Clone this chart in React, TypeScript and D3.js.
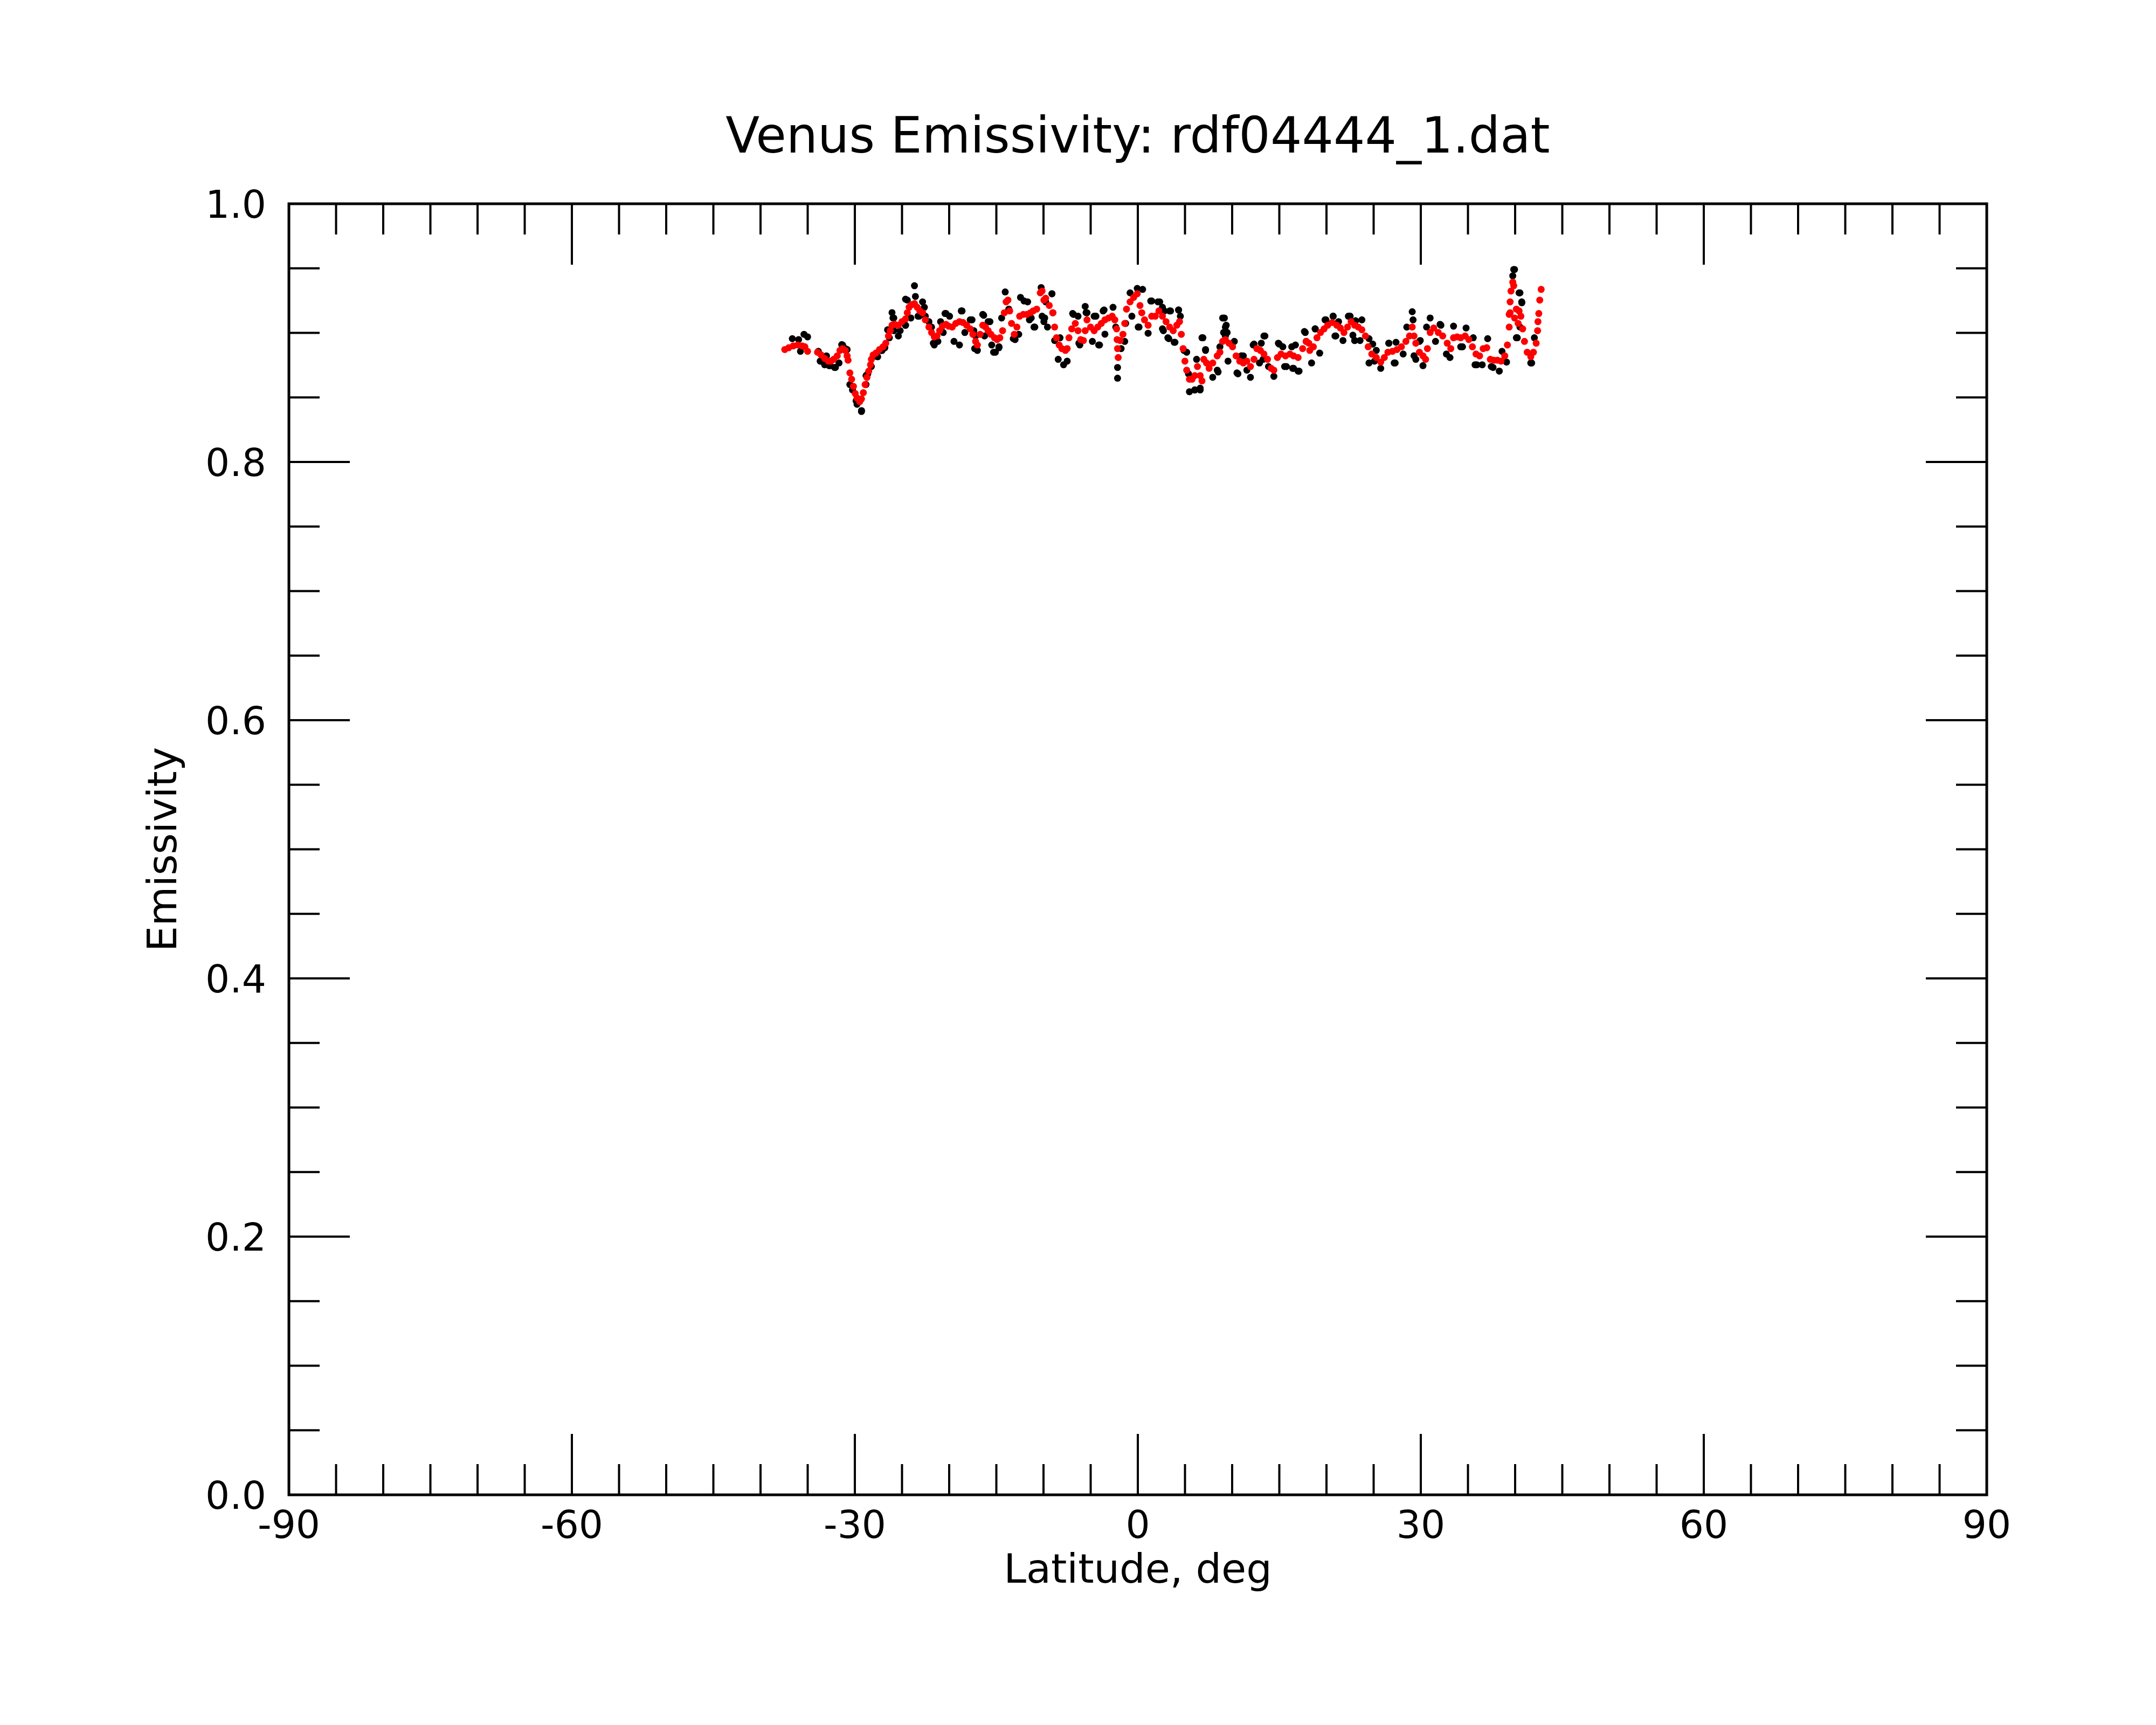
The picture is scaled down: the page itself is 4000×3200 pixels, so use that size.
import * as d3 from 'd3';

// smoothed emissivity (red)
const redLat = [
  -37.43, -37.01, -36.53, -36.06, -35.58, -35.30, -35.01,
  -33.96, -33.58, -33.20, -32.82, -32.53, -32.25, -31.87, -31.58, -31.30, -31.01, -30.82, -30.72,
  -30.53, -30.34, -30.15, -29.96, -29.77, -29.49, -29.30, -29.10, -28.91, -28.72, -28.53, -28.34, -28.25, -28.06,
  -27.77, -27.39, -27.01, -26.72, -26.44, -26.25, -26.06, -25.77, -25.39, -25.01, -24.63, -24.44, -24.25, -23.96,
  -23.68, -23.39, -23.11, -22.82, -22.53, -22.15, -21.87, -21.58, -21.30, -21.01, -20.72, -20.34, -20.06, -19.68,
  -19.30, -18.91, -18.53, -18.15, -17.77, -17.49, -17.20, -17.01, -16.72, -16.44, -16.15, -15.87, -15.58, -15.20,
  -14.92, -14.63, -14.34, -14.15, -13.96, -13.77, -13.58, -13.39, -13.10, -12.82, -12.53, -12.15, -11.77, -11.39,
  -11.10, -10.72, -10.34, -9.96,
  -10.15, -9.77, -9.39, -9.01, -8.82, -8.63, -8.34, -8.06, -7.68, -7.49, -7.30, -7.01, -6.63, -6.34, -6.06, -5.77,
  -5.58, -5.39, -5.01, -4.63, -4.25, -3.87, -3.49, -3.10, -2.72, -2.44, -2.25, -2.20, -2.15, -2.08, -1.87, -1.58,
  -1.39, -1.20, -0.82, -0.44, -0.06, 0.23, 0.42, 0.71, 1.09, 1.47, 1.85, 2.23, 2.61, 2.99, 3.37, 3.75, 4.13, 4.42,
  4.61, 4.80, 4.99, 5.18, 5.47, 5.75, 6.04, 6.32, 6.61, 6.80, 6.99, 7.28, 7.56, 7.94, 8.42, 8.70, 8.99, 9.28, 9.66,
  10.04, 10.42, 10.80, 11.18, 11.56, 11.94, 12.32, 12.61, 12.99, 13.37, 13.75, 14.13, 14.42, 14.80, 15.18, 15.66,
  16.13, 16.51, 16.99, 17.47, 17.85, 18.13,
  18.23, 18.61, 18.99, 19.37, 19.75, 20.13, 20.61, 21.09, 21.47, 21.85, 22.23, 22.61, 22.99, 23.37, 23.75, 24.13,
  24.42, 24.80, 25.28, 25.75, 26.13, 26.51, 26.99, 27.47, 27.94, 28.42, 28.80, 29.09, 29.28, 29.47, 29.85, 30.23,
  30.51, 30.70, 30.99, 31.37, 31.85, 32.32, 32.80, 33.18, 33.47, 33.85, 34.23, 34.70, 35.09, 35.47, 35.85, 36.23,
  36.61, 36.99, 37.37, 37.75, 38.13, 38.51, 38.90, 39.18, 39.37, 39.47, 39.56, 39.75, 39.85, 39.47, 39.37, 39.94,
  40.13, 40.42, 40.32, 40.61, 40.80, 40.99, 41.28, 41.66, 41.94, 42.23, 42.38, 42.42, 42.51, 42.61, 42.76,
];
const redEm = [
  0.8871, 0.8885, 0.8899, 0.8906, 0.8899, 0.8892, 0.8857,
  0.8850, 0.8829, 0.8802, 0.8781, 0.8781, 0.8795, 0.8822, 0.8864, 0.8878, 0.8864, 0.8822, 0.8788,
  0.8690, 0.8641, 0.8586, 0.8530, 0.8495, 0.8467, 0.8488, 0.8537, 0.8600, 0.8655, 0.8704, 0.8753, 0.8795, 0.8829,
  0.8843, 0.8871, 0.8892, 0.8920, 0.8976, 0.9017, 0.9059, 0.9066, 0.9059, 0.9087, 0.9108, 0.9156, 0.9198, 0.9219,
  0.9226, 0.9198, 0.9170, 0.9156, 0.9101, 0.9045, 0.9003, 0.8969, 0.8976, 0.9017, 0.9052, 0.9066, 0.9052, 0.9045,
  0.9073, 0.9087, 0.9080, 0.9059, 0.9031, 0.8989, 0.8934, 0.8906, 0.8989, 0.9059, 0.9045, 0.9017, 0.8989, 0.8962,
  0.8948, 0.8962, 0.9017, 0.9156, 0.9240, 0.9254, 0.9170, 0.9073, 0.8989, 0.9045, 0.9129, 0.9143, 0.9143, 0.9156,
  0.9170, 0.9184, 0.9310, 0.9254,
  0.9324, 0.9268, 0.9212, 0.9156, 0.9045, 0.8962, 0.8906, 0.8878, 0.8864, 0.8878, 0.8962, 0.9031, 0.9073, 0.9017, 0.8948, 0.8941,
  0.9017, 0.9101, 0.9045, 0.9017, 0.9045, 0.9073, 0.9101, 0.9115, 0.9129, 0.9101, 0.9031, 0.8948, 0.8878, 0.8809, 0.8941, 0.8989,
  0.9073, 0.9184, 0.9240, 0.9275, 0.9303, 0.9212, 0.9156, 0.9101, 0.9059, 0.9129, 0.9129, 0.9170, 0.9129, 0.9087, 0.9045, 0.9017, 0.9059, 0.9087,
  0.8989, 0.8878, 0.8781, 0.8711, 0.8641, 0.8641, 0.8669, 0.8739, 0.8669, 0.8628, 0.8795, 0.8767, 0.8725, 0.8767, 0.8822, 0.8850, 0.8934, 0.8948, 0.8920,
  0.8892, 0.8822, 0.8781, 0.8767, 0.8781, 0.8739, 0.8795, 0.8878, 0.8864, 0.8836, 0.8795, 0.8725, 0.8711, 0.8809, 0.8836, 0.8822,
  0.8836, 0.8822, 0.8809, 0.8878, 0.8934, 0.8920,
  0.8864, 0.8892, 0.8962, 0.9003, 0.9031, 0.9059, 0.9080, 0.9059, 0.9038, 0.9003, 0.9045, 0.9087, 0.9059, 0.9045, 0.9024, 0.8976,
  0.8892, 0.8836, 0.8809, 0.8774, 0.8809, 0.8850, 0.8857, 0.8871, 0.8892, 0.8934, 0.8976, 0.9045, 0.8976, 0.8920, 0.8850, 0.8822,
  0.8795, 0.8878, 0.9003, 0.9038, 0.9003, 0.8976, 0.8920, 0.8878, 0.8962, 0.8969, 0.8962, 0.8976, 0.8948, 0.8892, 0.8836, 0.8822,
  0.8878, 0.8885, 0.8795, 0.8788, 0.8788, 0.8781, 0.8822, 0.8906, 0.9045, 0.9156, 0.9324, 0.9393, 0.9365, 0.9240, 0.9143, 0.9115,
  0.9184, 0.9170, 0.9073, 0.9129, 0.9031, 0.8934, 0.8850, 0.8815, 0.8850, 0.8920, 0.9017, 0.9087, 0.9150, 0.9254, 0.9337,
];

// raw emissivity samples (black)
const blackLat = [
  -36.63, -35.96, -35.39, -35.01, -35.77, -33.58, -32.63, -32.06, -31.30, -30.82, -30.53, -29.87, -29.30, -28.82,
  -28.63, -27.58, -27.11, -26.82, -26.06, -25.96, -25.39, -25.20, -24.63, -24.44, -23.68, -23.58, -23.30, -22.82,
  -22.15, -21.58, -21.20, -20.34, -19.49, -18.91, -18.63, -17.77, -17.20, -17.01, -16.34, -15.68, -15.49, -15.10,
  -14.72, -14.06, -13.01, -12.44, -11.68, -11.30, -10.92, -10.25, -10.15,
  -9.77, -9.11, -9.96, -9.58, -8.44, -7.87, -7.49, -8.25, -6.82, -6.25, -5.58, -5.49, -4.82, -4.44, -4.06, -3.58,
  -3.49, -2.63, -2.34, -2.15, -2.15, -1.29, -0.82, -0.06, 0.51, 0.13, 1.09, 1.47, 2.13, 2.80, 3.37, 3.28, 3.94,
  4.32, 4.51, 4.89, 5.47, 6.04, 6.61, 6.90, 7.18, 7.94, 8.51, 8.70, 9.18, 9.37, 9.47, 10.23, 10.61, 10.99, 11.94,
  12.32, 13.37, 12.90, 14.42, 14.99, 15.56, 16.32, 16.51, 17.09, 17.75,
  18.42, 19.28, 18.80, 19.94, 20.70, 20.99, 21.75, 22.42, 22.99, 23.75, 24.51, 24.51, 25.28, 25.75, 26.61, 27.18,
  28.51, 29.09, 29.28, 29.85, 30.23, 30.99, 32.13, 33.09, 33.47, 34.23, 34.80, 35.75, 36.51, 37.09, 37.66, 38.32,
  38.61, 39.85, 39.75, 40.42, 40.70, 40.23, 41.75, 42.04,
  -33.68, -33.20, -32.72, -32.15, -31.68, -33.87, -33.01, -31.39, -31.01,
  -30.25, -29.77, -29.29, -28.25, -28.82, -28.06, -27.20, -26.34, -25.87, -24.63, -26.53, -25.87,
  -24.63, -24.06, -23.20, -22.63, -22.53, -21.87, -21.68, -21.39, -20.91, -20.44, -19.96, -18.72, -18.34, -17.39,
  -17.30, -20.63,
  -17.58, -16.44, -16.25, -15.87, -15.29, -14.72, -14.44, -13.68, -13.20, -12.63, -12.06, -11.49, -11.01, -9.87,
  -9.10, -9.01, -8.82, -6.91, -6.34, -5.39, -6.15, -4.15, -4.63, -3.68, -1.77, -1.39, 0.04, 1.37, 2.71, -0.63,
  2.32, 2.61, 3.47, 4.32, 2.61, 3.18, 3.85, 5.18, 5.37, 6.04, 6.61, 6.23, 6.80, 7.18, 8.42, 8.99, 9.28, 9.09, 9.28,
  9.56, 10.51, 11.18, 11.56, 12.23, 13.09, 13.47, 13.28, 13.85, 14.90, 15.37, 15.75, 16.42, 16.99, 16.71, 17.66,
  17.85, 18.80, 19.85, 20.71, 21.28, 20.90, 22.32,
  22.51, 23.09, 22.80, 22.99, 23.56, 24.90, 25.09, 26.61, 27.37, 27.28, 28.13, 29.18, 29.47, 29.94, 30.61, 31.56,
  32.04, 32.71, 34.42, 35.56, 35.94, 37.47, 39.09, 39.94, 40.51, 40.71, 40.13, 41.66, 40.51,
];
const blackEm = [
  0.8955, 0.8948, 0.8989, 0.8969, 0.8857, 0.8781, 0.8746, 0.8732, 0.8906, 0.8871, 0.8600, 0.8474, 0.8391, 0.8600,
  0.8683, 0.8815, 0.8864, 0.8885, 0.9157, 0.9115, 0.8976, 0.9017, 0.9059, 0.9254, 0.9365, 0.9282, 0.9129, 0.9240,
  0.9087, 0.8906, 0.8934, 0.9150, 0.8934, 0.8906, 0.9170, 0.9101, 0.8976, 0.8864, 0.9136, 0.9087, 0.8906, 0.8850,
  0.8892, 0.9317, 0.8948, 0.9275, 0.9240, 0.9115, 0.9045, 0.9351, 0.9129,
  0.9240, 0.9303, 0.9087, 0.9045, 0.8795, 0.8753, 0.8781, 0.8962, 0.9143, 0.8920, 0.9205, 0.9157, 0.8934, 0.9129, 0.8906, 0.9177,
  0.8990, 0.9198, 0.9045, 0.8732, 0.8649, 0.9073, 0.9310, 0.9344, 0.9337, 0.9045, 0.8997, 0.9247, 0.9240, 0.9170, 0.9170, 0.8955, 0.8927,
  0.9177, 0.9129, 0.8864, 0.8544, 0.8558, 0.8572, 0.8962, 0.8864, 0.8656, 0.8697, 0.8892, 0.9115, 0.9059, 0.9003, 0.8934, 0.8683, 0.8823, 0.8656,
  0.8913, 0.8976, 0.8767, 0.8663, 0.8913, 0.8739, 0.8892, 0.8725, 0.8704, 0.9003,
  0.8767, 0.8843, 0.9031, 0.9101, 0.9129, 0.8976, 0.8941, 0.9129, 0.8941, 0.9101, 0.8955, 0.8767, 0.8864, 0.8725, 0.8920, 0.8767,
  0.9045, 0.9164, 0.8823, 0.8934, 0.8746, 0.9115, 0.9059, 0.8809, 0.9052, 0.8892, 0.9038, 0.8753, 0.8753, 0.8955, 0.8732, 0.8704,
  0.8857, 0.9491, 0.9442, 0.9310, 0.9240, 0.8962, 0.8767, 0.8962,
  0.8781, 0.8753, 0.8746, 0.8732, 0.8767, 0.8857, 0.8822, 0.8909, 0.8878,
  0.8558, 0.8447, 0.8398, 0.8739, 0.8669, 0.8815, 0.8864, 0.8962, 0.9017, 0.9059, 0.9024, 0.9115,
  0.9261, 0.9115, 0.9129, 0.9198, 0.9129, 0.9045, 0.8920, 0.8934, 0.9087, 0.9150, 0.9129, 0.9170, 0.9003, 0.9017,
  0.8878, 0.9003,
  0.9101, 0.9143, 0.8976, 0.9087, 0.8850, 0.8885, 0.9115, 0.9184, 0.8955, 0.8989, 0.9247, 0.9101, 0.9045, 0.9115,
  0.9303, 0.9156, 0.8941, 0.9150, 0.9129, 0.9156, 0.8906, 0.8906, 0.9129, 0.9170, 0.8878, 0.8934, 0.9045, 0.9247, 0.9017, 0.9129,
  0.9240, 0.9198, 0.9170, 0.9177, 0.9031, 0.8962, 0.8927, 0.8850, 0.8683, 0.8558, 0.8558, 0.8795, 0.8962, 0.8871, 0.8711, 0.9115, 0.9045, 0.9003, 0.8976,
  0.8781, 0.8690, 0.8822, 0.8711, 0.8906, 0.8920, 0.8976, 0.8795, 0.8739, 0.8920, 0.8892, 0.8739, 0.8725, 0.8704, 0.8906, 0.9010,
  0.8934, 0.9031, 0.9101, 0.9129, 0.9087, 0.8976, 0.9129,
  0.9129, 0.9094, 0.8982, 0.8941, 0.8941, 0.8913, 0.8781, 0.8920, 0.8927, 0.8767, 0.8836, 0.9101, 0.8795, 0.8941, 0.9045, 0.8934,
  0.9066, 0.8836, 0.8892, 0.8962, 0.8753, 0.8739, 0.8774, 0.9491, 0.9310, 0.9233, 0.8962, 0.8767, 0.9045,
];

const xMajor = [-90, -60, -30, 0, 30, 60, 90];
const yMajor = [0, 0.2, 0.4, 0.6, 0.8, 1.0];

const W = 4000;
const H = 3200;
const left = 536, right = 3686, top = 378, bottom = 2773;
const font = 'DejaVu Sans, sans-serif';

export default function App() {
  const x = d3.scaleLinear().domain([-90, 90]).range([left, right]);
  const y = d3.scaleLinear().domain([0, 1]).range([bottom, top]);

  const xMinor = d3.range(-90, 91, 5).filter(v => v % 30 !== 0);
  const yMinor = d3.range(0, 21).map(i => i / 20).filter(v => Math.round(v * 20) % 4 !== 0);

  const majorLen = 113;
  const minorLen = 57;

  return (
    <svg width={W} height={H} style={{ position: 'absolute', left: 0, top: 0, background: '#fff' }}
      fontFamily={font}>
      <rect width={W} height={H} fill="#fff" />

      {/* raw samples */}
      <g fill="#000">
        {blackLat.map((lat, i) => (
          <circle key={i} cx={x(lat)} cy={y(blackEm[i])} r={6.5} />
        ))}
      </g>
      {/* smoothed */}
      <g fill="#ff0000">
        {redLat.map((lat, i) => (
          <circle key={i} cx={x(lat)} cy={y(redEm[i])} r={6.5} />
        ))}
      </g>

      {/* ticks, all inward */}
      <g stroke="#000" strokeWidth={4}>
        {xMajor.map(v => (
          <g key={'xm' + v}>
            <line x1={x(v)} x2={x(v)} y1={bottom} y2={bottom - majorLen} />
            <line x1={x(v)} x2={x(v)} y1={top} y2={top + majorLen} />
          </g>
        ))}
        {xMinor.map(v => (
          <g key={'xn' + v}>
            <line x1={x(v)} x2={x(v)} y1={bottom} y2={bottom - minorLen} />
            <line x1={x(v)} x2={x(v)} y1={top} y2={top + minorLen} />
          </g>
        ))}
        {yMajor.map(v => (
          <g key={'ym' + v}>
            <line x1={left} x2={left + majorLen} y1={y(v)} y2={y(v)} />
            <line x1={right} x2={right - majorLen} y1={y(v)} y2={y(v)} />
          </g>
        ))}
        {yMinor.map(v => (
          <g key={'yn' + v}>
            <line x1={left} x2={left + minorLen} y1={y(v)} y2={y(v)} />
            <line x1={right} x2={right - minorLen} y1={y(v)} y2={y(v)} />
          </g>
        ))}
      </g>

      <rect x={left} y={top} width={right - left} height={bottom - top}
        fill="none" stroke="#000" strokeWidth={5} />

      {/* tick labels */}
      <g fontSize={71} fill="#000">
        {xMajor.map(v => (
          <text key={'xl' + v} x={x(v)} y={bottom + 80} textAnchor="middle">{v}</text>
        ))}
        {yMajor.map(v => (
          <text key={'yl' + v} x={left - 42} y={y(v)} dy="0.36em" textAnchor="end">{v.toFixed(1)}</text>
        ))}
      </g>

      <text x={(left + right) / 2} y={2936} textAnchor="middle" fontSize={75}>Latitude, deg</text>
      <text transform={`translate(327, ${(top + bottom) / 2}) rotate(-90)`} textAnchor="middle" fontSize={75}>Emissivity</text>
      <text x={(left + right) / 2} y={283} textAnchor="middle" fontSize={92}>Venus Emissivity: rdf04444_1.dat</text>
    </svg>
  );
}
